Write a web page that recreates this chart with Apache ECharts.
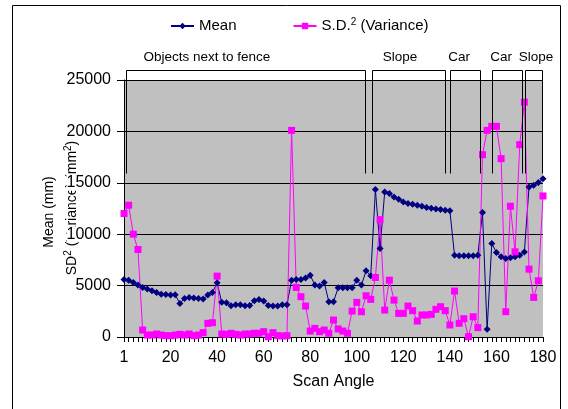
<!DOCTYPE html>
<html><head><meta charset="utf-8">
<script src="https://cdn.jsdelivr.net/npm/echarts@6/dist/echarts.min.js"></script>
<style>html,body{margin:0;padding:0;background:#fff}#c{width:568px;height:409px}</style>
</head><body><div id="c"></div>
<script>
const angles = ['1','2','4','6','8','10','12','14','16','18','20','22','24','26','28','30','32','34','36','38','40','42','44','46','48','50','52','54','56','58','60','62','64','66','68','70','72','74','76','78','80','82','84','86','88','90','92','94','96','98','100','102','104','106','108','110','112','114','116','118','120','122','124','126','128','130','132','134','136','138','140','142','144','146','148','150','152','154','156','158','160','162','164','166','168','170','172','174','176','178','180'];
const tickLabels = ['1','20','40','60','80','100','120','140','160','180'];
const meanValues = [5600,5530,5300,5050,4820,4660,4500,4340,4170,4140,4080,4110,3270,3750,3850,3790,3750,3690,4080,4340,5270,3370,3330,3040,3140,3140,3040,3070,3530,3660,3500,3070,3010,3010,3140,3140,
  5530,5600,5600,5750,6000,5050,4950,5310,3430,3430,4790,4790,4790,4790,5530,5050,6440,5960,
  14340,8610,14110,13950,13620,13400,13140,12980,12910,12820,12720,12590,12520,12460,12400,12330,12270,
  7960,7900,7900,7900,7900,7960,
  12100,750,9100,8220,7800,7640,7700,7800,7960,8280,14590,14760,15020,15400];
const varianceValues = [12010,12820,10000,8510,680,190,190,290,190,130,130,190,260,190,290,130,190,420,1330,1390,5920,290,260,360,260,190,290,290,360,360,520,30,420,130,100,130,
  20100,4820,3920,3010,580,840,520,680,360,1650,780,580,360,2520,3370,2460,4010,3660,5790,11420,2620,5530,3590,2300,2300,3010,2560,1550,2140,2140,2200,2690,2950,2560,1170,4470,1330,1780,30,1970,910,
  17730,20100,20490,20490,17350,2460,12720,8290,18710,22850,6600,3850,5470,13720];
const seriesNames = ['Mean', 'S.D.2 (Variance)'];
// annotation brackets: [start index, end index] along the category axis
const bracketNames = ['Objects next to fence','Slope','Car','Car','Slope'];
const bracketSpans = [[0.4,51.8],[53.2,69],[70,76.5],[79,85.5],[86.2,89.8]];
const bracketLabelAt = [17.8,59.3,72,81,88.5];
const bracketTop = 26000, bracketBottom = 16000;

const FONT = '"Liberation Sans", Arial, sans-serif';
const chart = echarts.init(document.getElementById('c'), null, {renderer:'canvas'});
chart.setOption({
  animation:false,
  backgroundColor:'#fff',
  grid:{left:124,right:25,top:80,bottom:72,show:true,backgroundColor:'#c0c0c0',borderWidth:0},
  legend:{left:165,top:12,itemWidth:23,itemHeight:8,itemGap:56,
    data:seriesNames,
    formatter:n=> n==='Mean' ? 'Mean' : 'S.D.{sup|2} (Variance)',
    textStyle:{fontSize:15,fontFamily:FONT,color:'#000',
      rich:{sup:{fontSize:10,fontFamily:FONT,color:'#000',verticalAlign:'top',padding:[0,0,8,0]}}}},
  xAxis:[{type:'category',data:angles,boundaryGap:false,
    axisLine:{lineStyle:{color:'#000',width:1}},
    axisTick:{show:true,interval:0,length:5,lineStyle:{color:'#000'}},
    axisLabel:{interval:(i,v)=>tickLabels.includes(v),color:'#000',fontSize:16,fontFamily:FONT,margin:13},
    splitLine:{show:false},
    name:'Scan Angle',nameLocation:'middle',nameGap:37,
    nameTextStyle:{fontSize:16,fontFamily:FONT,color:'#000'}},
    {type:'value',min:0,max:90,show:false}],
  yAxis:{type:'value',min:0,max:25000,interval:5000,
    axisLine:{show:true,lineStyle:{color:'#000',width:1}},
    axisTick:{show:true,length:7,lineStyle:{color:'#000'}},
    splitLine:{show:true,lineStyle:{color:'#000',width:1}},
    axisLabel:{formatter:v=>String(v),color:'#000',fontSize:16,fontFamily:FONT,margin:13,backgroundColor:'#fff'}},
  series:[
    {type:'line',name:seriesNames[0],data:meanValues,symbol:'diamond',symbolSize:7,showAllSymbol:true,
      color:'#000080',lineStyle:{color:'#000080',width:1},itemStyle:{color:'#000080'}},
    {type:'line',name:seriesNames[1],data:varianceValues,symbol:'rect',symbolSize:7,showAllSymbol:true,
      color:'#ff00ff',lineStyle:{color:'#ff00ff',width:1},itemStyle:{color:'#ff00ff'}}
  ]
});

const px = v => Math.round(chart.convertToPixel({xAxisIndex:1}, v)) + 0.5;
const py = v => Math.round(chart.convertToPixel({yAxisIndex:0}, v)) + 0.5;
const elements = [];
elements.push({type:'rect',shape:{x:12.5,y:5.5,width:548,height:420},style:{fill:null,stroke:'#000',lineWidth:1},z:-20,silent:true});
const yt = py(bracketTop), yb = py(bracketBottom);
bracketSpans.forEach((s,k)=>{
  const a = px(s[0]), b = px(s[1]);
  elements.push({type:'polyline',shape:{points:[[a,yb],[a,yt],[b,yt],[b,yb]]},style:{fill:null,stroke:'#000',lineWidth:1},z:50,silent:true});
  elements.push({type:'text',x:chart.convertToPixel({xAxisIndex:1}, bracketLabelAt[k]),y:57,
    style:{text:bracketNames[k],font:'13.5px '+FONT,fill:'#000',textAlign:'center',textVerticalAlign:'middle'},z:50});
});
// y-axis titles (rotated)
elements.push({type:'text',x:49,y:212,rotation:Math.PI/2,
  style:{text:'Mean (mm)',font:'14px '+FONT,fill:'#000',textAlign:'center',textVerticalAlign:'middle'},z:-10});
elements.push({type:'text',x:72,y:208,rotation:Math.PI/2,
  style:{text:'SD{sup|2} (Variance) (mm{sup|2})',font:'14px '+FONT,fill:'#000',textAlign:'center',textVerticalAlign:'middle',
    rich:{sup:{fontSize:10,fontFamily:FONT,verticalAlign:'top',padding:[0,0,8,0]}}},z:-10});
chart.setOption({graphic:{elements:elements}});
</script></body></html>
